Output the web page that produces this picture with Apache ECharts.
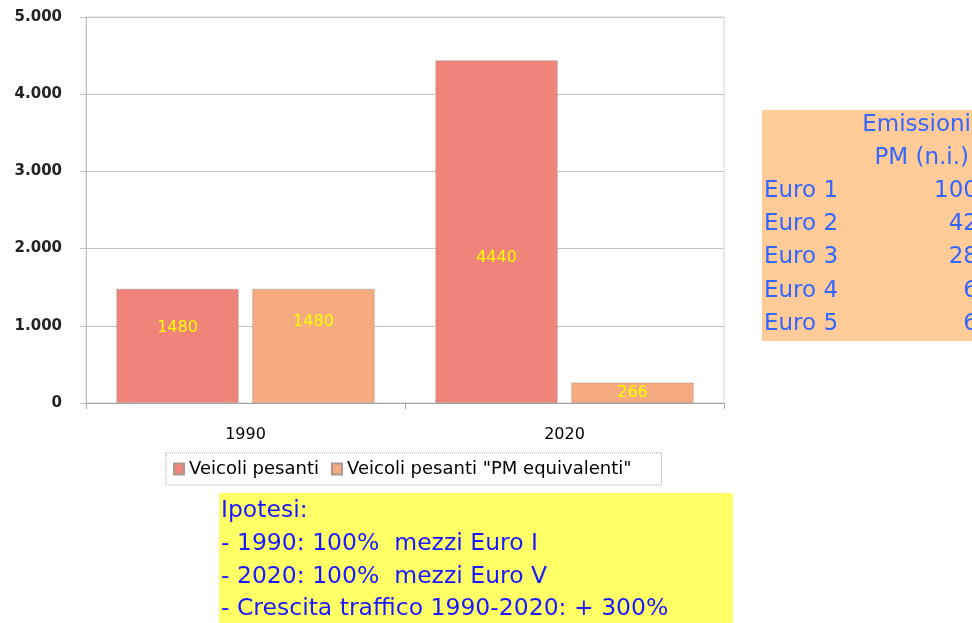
<!DOCTYPE html>
<html><head><meta charset="utf-8">
<script src="https://cdn.jsdelivr.net/npm/echarts@6/dist/echarts.min.js"></script>
<style>html,body{margin:0;padding:0;background:#fff}#c{width:972px;height:623px}</style>
</head><body><div id="c"></div>
<script>
const categories = ['1990', '2020'];
const seriesNames = ['Veicoli pesanti', 'Veicoli pesanti "PM equivalenti"'];
const veicoliPesanti = [1480, 4440];
const veicoliPM = [1480, 266];
const yTicks = [0, 1000, 2000, 3000, 4000, 5000];
const ipotesiLines = ['Ipotesi:', '- 1990: 100%  mezzi Euro I', '- 2020: 100%  mezzi Euro V', '- Crescita traffico 1990-2020: + 300%'];
const tableHeader = ['Emissioni', 'PM (n.i.)'];
const tableRows = ['Euro 1', 'Euro 2', 'Euro 3', 'Euro 4', 'Euro 5'];
const tableValues = [100, 42, 28, 6, 6];

const chart = echarts.init(document.getElementById('c'));
const fmt = v => String(v).replace(/\B(?=(\d{3})+(?!\d))/g, '.');
const redOff = [-18, 26], orOff = [-24, 0];
const mk = (vals, offs) => vals.map((v, i) => ({ value: v, label: { offset: [0, offs[i]] } }));
const lbl = { show: true, position: 'inside', color: '#ffff00', fontFamily: 'DejaVu Sans', fontSize: 16 };
const graphics = [];
graphics.push({ type: 'rect', shape: { x: 219, y: 493, width: 514, height: 130 }, style: { fill: '#ffff66' }, z: 1 });
ipotesiLines.forEach((t, i) => graphics.push({ type: 'text', x: 221, y: 511 + i * 32.7, style: { text: t, fill: '#1a1aff', font: '23.5px "DejaVu Sans"', textVerticalAlign: 'middle' }, z: 2 }));
graphics.push({ type: 'rect', shape: { x: 762, y: 110, width: 210, height: 231 }, style: { fill: '#ffcc99' }, z: 1 });
const tf = '23px "DejaVu Sans"';
graphics.push({ type: 'text', x: 971, y: 125, style: { text: tableHeader[0], fill: '#3366ff', font: tf, textAlign: 'right', textVerticalAlign: 'middle' }, z: 2 });
graphics.push({ type: 'text', x: 969, y: 158, style: { text: tableHeader[1], fill: '#3366ff', font: tf, textAlign: 'right', textVerticalAlign: 'middle' }, z: 2 });
tableRows.forEach((t, i) => {
  graphics.push({ type: 'text', x: 764, y: 191 + i * 33.2, style: { text: t, fill: '#3366ff', font: tf, textVerticalAlign: 'middle' }, z: 2 });
  graphics.push({ type: 'text', x: 978, y: 191 + i * 33.2, style: { text: String(tableValues[i]), fill: '#3366ff', font: tf, textAlign: 'right', textVerticalAlign: 'middle' }, z: 2 });
});
chart.setOption({
  animation: false,
  grid: { left: 86, right: 248, top: 17, bottom: 220, show: true, borderColor: '#b0b0b0', borderType: 'dotted', borderWidth: 1 },
  legend: {
    left: 166, top: 453, icon: 'rect', itemWidth: 10, itemHeight: 11, itemGap: 12, padding: [7, 30, 7, 7],
    borderColor: '#a0a0a0', borderWidth: 1, borderType: 'dotted',
    textStyle: { fontFamily: 'DejaVu Sans', fontSize: 18, color: '#000' },
    data: seriesNames
  },
  xAxis: {
    type: 'category', data: categories,
    axisLine: { lineStyle: { color: '#999', type: 'dotted' } },
    axisTick: { show: true, length: 6, lineStyle: { color: '#aaa' } },
    axisLabel: { fontFamily: 'DejaVu Sans', fontSize: 16, color: '#000', margin: 24 }
  },
  yAxis: {
    type: 'value', min: 0, max: 5000, interval: 1000,
    axisLine: { show: true, lineStyle: { color: '#c0c0c0' } },
    axisTick: { show: true, length: 6, lineStyle: { color: '#c0c0c0' } },
    splitLine: { lineStyle: { color: '#c4c4c4' } },
    axisLabel: { fontFamily: 'DejaVu Sans', fontSize: 15, fontWeight: 'bold', color: '#222', margin: 24, formatter: v => yTicks.includes(v) ? fmt(v) : '' }
  },
  series: [
    { name: seriesNames[0], type: 'bar', data: mk(veicoliPesanti, redOff), barGap: '11%', barCategoryGap: '19%',
      itemStyle: { color: '#f0837a', borderColor: '#a89890', borderWidth: 1, borderType: 'dotted' }, label: lbl },
    { name: seriesNames[1], type: 'bar', data: mk(veicoliPM, orOff),
      itemStyle: { color: '#f5aa80', borderColor: '#a89890', borderWidth: 1, borderType: 'dotted' }, label: lbl }
  ],
  graphic: graphics
});
</script></body></html>
